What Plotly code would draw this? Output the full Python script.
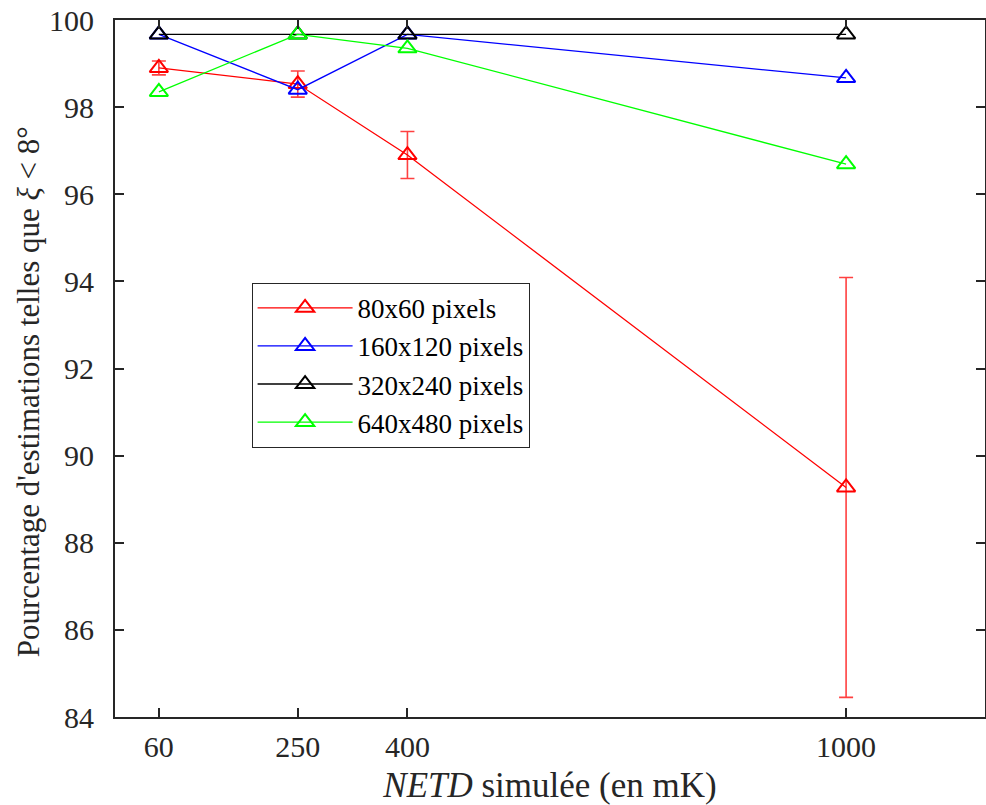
import plotly.graph_objects as go

# NETD values (mK) and percentage of estimates with xi < 8 deg
netd = [60, 250, 400, 1000]
series_names = ["80x60 pixels", "160x120 pixels", "320x240 pixels", "640x480 pixels"]
pct_80x60 = [98.9, 98.53, 96.9, 89.27]
err_80x60 = [0.16, 0.30, 0.54, 4.82]
pct_160x120 = [99.67, 98.4, 99.67, 98.67]
pct_320x240 = [99.67, 99.67, 99.67, 99.67]
pct_640x480 = [98.35, 99.67, 99.35, 96.69]
x_ticks = [60, 250, 400, 1000]
y_ticks = [84, 86, 88, 90, 92, 94, 96, 98, 100]

colors = ["#ff0000", "#0000ff", "#000000", "#00ff00"]
values = [pct_80x60, pct_160x120, pct_320x240, pct_640x480]

serif = "Times New Roman"

fig = go.Figure()
for i, (name, vals, col) in enumerate(zip(series_names, values, colors)):
    err = None
    if i == 0:
        err = dict(type="data", array=err_80x60, visible=True,
                   color="rgba(255,0,0,0.75)", thickness=1.6, width=7)
    fig.add_trace(go.Scatter(
        x=netd, y=vals, name=name, mode="lines+markers",
        line=dict(color=col, width=1.3),
        marker=dict(symbol="triangle-up-open", size=16, color=col,
                    line=dict(color=col, width=2)),
        error_y=err,
    ))

tick_font = dict(family=serif, size=30, color="#262626")

fig.update_layout(
    width=986, height=805,
    margin=dict(l=115, r=1, t=20, b=88),
    paper_bgcolor="white", plot_bgcolor="white",
    font=dict(family=serif, color="#000000"),
    showlegend=True,
    legend=dict(
        x=0.157, y=0.623, xanchor="left", yanchor="top",
        bgcolor="white", bordercolor="#262626", borderwidth=1,
        font=dict(family=serif, size=27, color="#000000"),
        itemwidth=95, tracegroupgap=0,
    ),
    xaxis=dict(
        range=[0, 1190], tickvals=x_ticks, ticktext=[str(v) for v in x_ticks],
        showgrid=False, zeroline=False, automargin=False,
        showline=True, linecolor="#262626", linewidth=2, mirror="ticks",
        ticks="inside", ticklen=9, tickwidth=1.5, tickcolor="#262626",
        tickfont=tick_font, ticklabelstandoff=2,
        title=dict(text="<i>NETD</i> simulée (en mK)",
                   font=dict(family=serif, size=35, color="#262626"),
                   standoff=20),
    ),
    yaxis=dict(
        range=[84, 100], tickvals=y_ticks, ticktext=[str(v) for v in y_ticks],
        showgrid=False, zeroline=False, automargin=False,
        showline=True, linecolor="#262626", linewidth=2, mirror="ticks",
        ticks="inside", ticklen=9, tickwidth=1.5, tickcolor="#262626",
        tickfont=tick_font, ticklabelstandoff=13,
    ),
    annotations=[dict(
        text="Pourcentage d'estimations telles que <i>ξ</i> < 8°",
        xref="paper", yref="paper", x=-0.1, y=0.466,
        xanchor="center", yanchor="middle", textangle=-90, showarrow=False,
        font=dict(family=serif, size=31, color="#262626"),
    )],
)

fig.write_html("out.html")
